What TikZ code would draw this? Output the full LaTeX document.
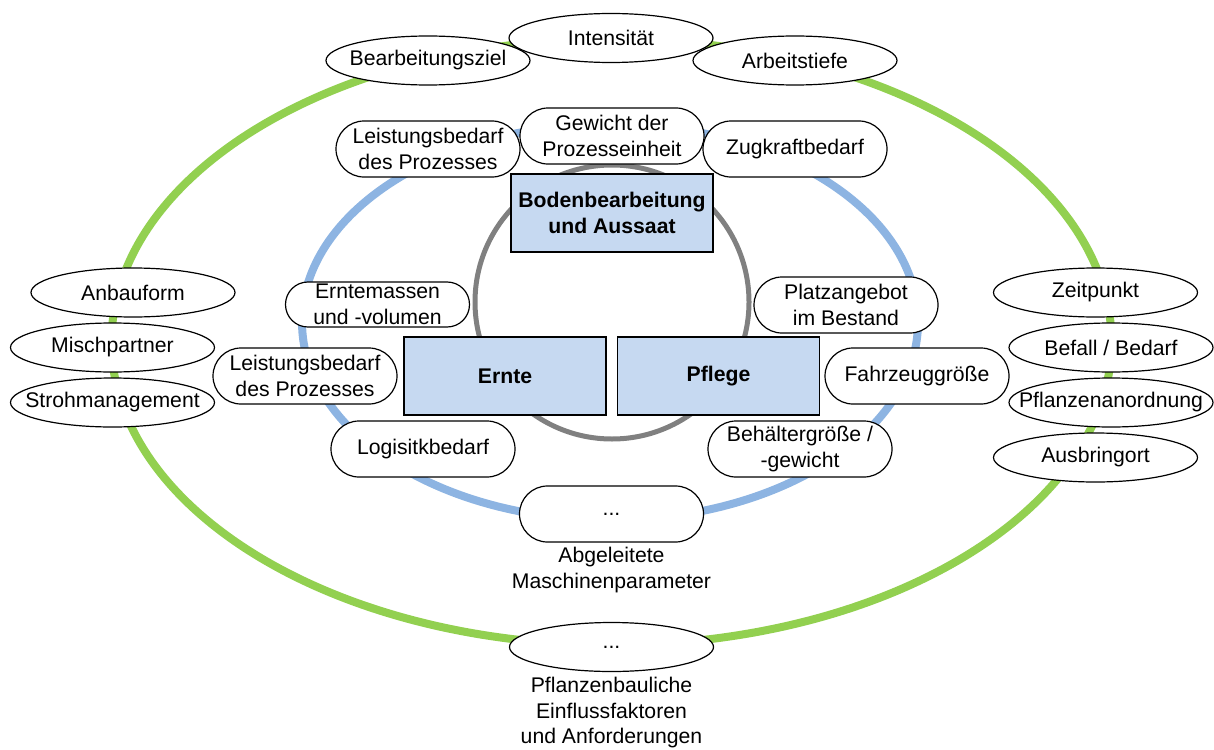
\documentclass[tikz,border=0pt]{standalone}
\usepackage{fontspec}
\setmainfont{Liberation Sans}
\usetikzlibrary{shapes.geometric}

\definecolor{ringgreen}{RGB}{146,208,80}
\definecolor{ringblue}{RGB}{141,180,226}
\definecolor{ringgray}{RGB}{128,128,128}
\definecolor{boxfill}{RGB}{198,217,241}

\newcommand\diagramfont{\fontsize{10.6}{12.75}\selectfont}

\begin{document}
\begin{tikzpicture}[x=0.5pt, y=-0.5pt, font=\diagramfont,
  factor/.style={ellipse, draw=black, line width=0.6pt, fill=white,
    minimum width=102pt, minimum height=24.5pt, inner sep=0pt},
  param/.style={rectangle, rounded corners=14pt, draw=black, line width=0.6pt,
    fill=white, minimum width=92pt, minimum height=28pt, inner sep=1pt,
    align=center},
  process/.style={rectangle, draw=black, line width=0.6pt, fill=boxfill,
    minimum width=101pt, minimum height=39pt, align=center,
    font=\diagramfont\bfseries},
  caption/.style={align=center, inner sep=0pt},
  ring/.style={line width=4pt}]

  % page frame
  \useasboundingbox (0,0) rectangle (1214,749);

  % rings
  \draw[ring, ringgreen] (611.5,342) ellipse [x radius=250pt, y radius=151.5pt];
  \draw[ring, ringblue]  (610,322)   ellipse [x radius=154pt, y radius=99pt];
  \draw[line width=2.5pt, ringgray] (612,302) circle [radius=68.5pt];

  % processes
  \node[process] (boden)  at (612,213)   {Bodenbearbeitung\\und Aussaat};
  \node[process] (ernte)  at (505,376)   {Ernte};
  \node[process] (pflege) at (718.5,376) {Pflege};

  % derived machine parameters
  \node[param] (lbtop)  at (428,149)   {Leistungsbedarf\\des Prozesses};
  \node[param] (gew)    at (612,136)   {Gewicht der\\Prozesseinheit};
  \node[param] (zug)    at (795,149)   {Zugkraftbedarf};
  \node[param, minimum height=22.5pt, inner ysep=0pt, rounded corners=11.2pt]
    (masse) at (377.5,304.5) {Erntemassen\\und -volumen};
  \node[param] (lbleft) at (305,376)   {Leistungsbedarf\\des Prozesses};
  \node[param] (logis)  at (423,449)   {Logisitkbedarf};
  \node[param] (platz)  at (846,305)   {Platzangebot\\im Bestand};
  \node[param] (fahr)   at (917,376)   {Fahrzeuggröße};
  \node[param] (behael) at (800,449)   {Behältergröße /\\-gewicht};
  \node[param] (mdots)  at (611.5,514) {...};
  \node[caption] (mcap) at (611.5,570) {Abgeleitete\\Maschinenparameter};

  % crop-related influencing factors
  \node[factor] (ziel)   at (428,60.5)    {\makebox[0pt]{Bearbeitungsziel}};
  \node[factor] (tiefe)  at (795,60.5)    {\makebox[0pt]{Arbeitstiefe}};
  \node[factor] (inten)  at (611,38)      {\makebox[0pt]{Intensität}};
  \node[factor] (anbau)  at (133,292.5)   {\makebox[0pt]{Anbauform}};
  \node[factor] (misch)  at (112.5,347.5) {\makebox[0pt]{Mischpartner}};
  \node[factor] (stroh)  at (112.5,402.5) {\makebox[0pt]{Strohmanagement}};
  \node[factor] (zeit)   at (1095.5,292.5) {\makebox[0pt]{Zeitpunkt}};
  \node[factor] (befall) at (1111,347.5)  {\makebox[0pt]{Befall / Bedarf}};
  \node[factor] (anord)  at (1111,402.5)  {\makebox[0pt]{Pflanzenanordnung}};
  \node[factor] (ausb)   at (1095.5,457.5) {\makebox[0pt]{Ausbringort}};
  \node[factor] (fdots)  at (611.5,647)   {\makebox[0pt]{...}};
  \node[caption] (fcap)  at (611.5,713)   {Pflanzenbauliche\\Einflussfaktoren\\und Anforderungen};
\end{tikzpicture}
\end{document}
